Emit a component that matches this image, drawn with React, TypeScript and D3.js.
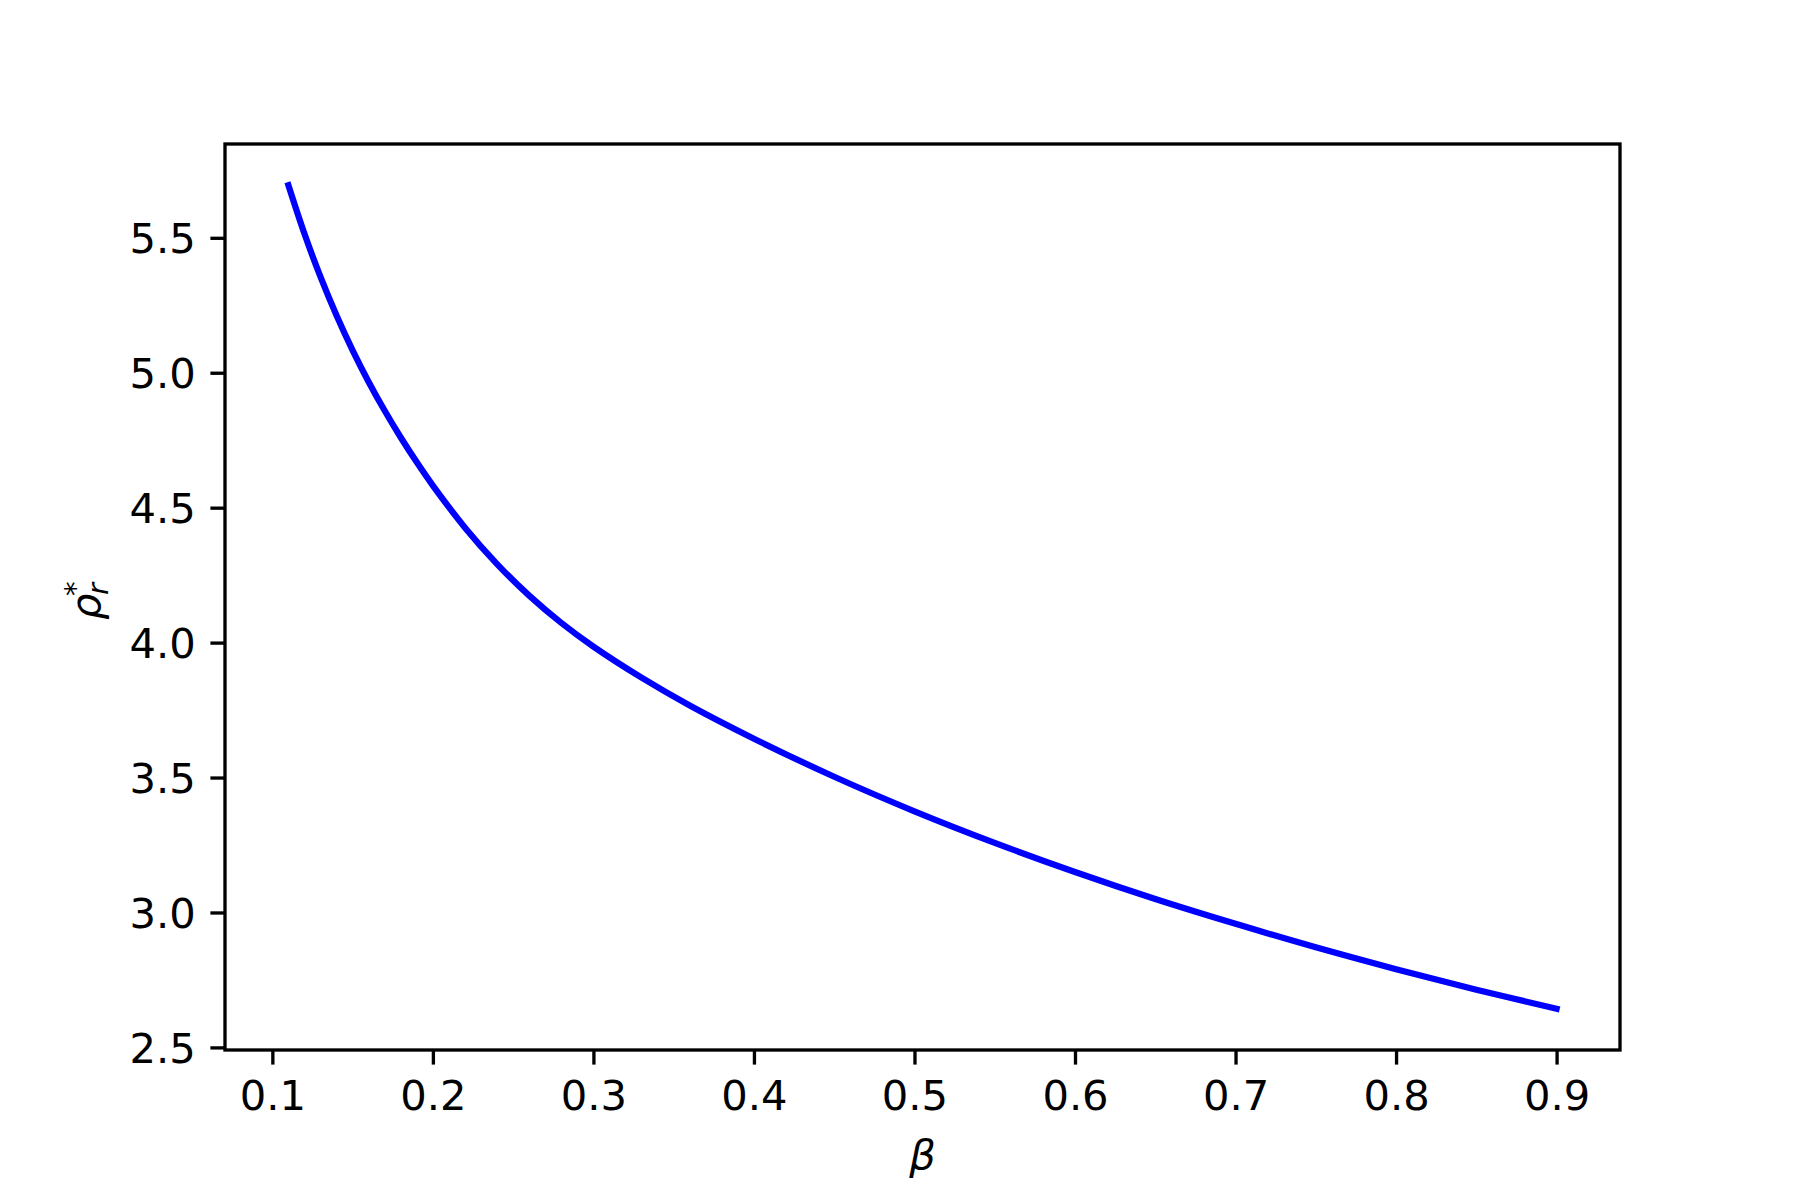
import { useRef, useEffect } from 'react';
import * as d3 from 'd3';

// values
const BETA = [0.11, 0.12, 0.13, 0.14, 0.15, 0.16, 0.17, 0.18, 0.19, 0.20, 0.22, 0.24, 0.26, 0.28, 0.30,
  0.33, 0.36, 0.40, 0.45, 0.50, 0.55, 0.60, 0.65, 0.70, 0.75, 0.80, 0.85, 0.90];
const RHO = [5.695, 5.515, 5.355, 5.212, 5.083, 4.966, 4.859, 4.76, 4.668, 4.582, 4.426, 4.291, 4.174, 4.073, 3.985,
  3.87, 3.767, 3.644, 3.503, 3.375, 3.258, 3.15, 3.05, 2.958, 2.871, 2.79, 2.714, 2.643];

const X_TICKS = [0.1, 0.2, 0.3, 0.4, 0.5, 0.6, 0.7, 0.8, 0.9];
const Y_TICKS = [2.5, 3.0, 3.5, 4.0, 4.5, 5.0, 5.5];

const FONT = '"DejaVu Sans", sans-serif';

export default function App() {
  const ref = useRef<SVGSVGElement>(null);

  useEffect(() => {
    const svg = d3.select(ref.current);
    svg.selectAll('*').remove();

    const W = 1800, H = 1200;
    const m = { top: 144, right: 180, bottom: 150, left: 225 };
    const iw = W - m.left - m.right;
    const ih = H - m.top - m.bottom;
    const fs = 41.67;
    const tick = 14.6;
    const lw = 3.33;

    // matplotlib-style 5% margins
    const pad = (lo: number, hi: number) => [lo - (hi - lo) * 0.05, hi + (hi - lo) * 0.05];
    const [x0, x1] = d3.extent(BETA) as [number, number];
    const [y0, y1] = d3.extent(RHO) as [number, number];

    const x = d3.scaleLinear().domain(pad(x0, x1)).range([0, iw]);
    const y = d3.scaleLinear().domain(pad(y0, y1)).range([ih, 0]);

    const g = svg.append('g').attr('transform', `translate(${m.left},${m.top})`);

    // curve
    const pts = BETA.map((b, i) => [b, RHO[i]] as [number, number]);
    g.append('path')
      .datum(pts)
      .attr('d', d3.line<[number, number]>().x(d => x(d[0])).y(d => y(d[1])).curve(d3.curveCatmullRom.alpha(0.5)))
      .attr('fill', 'none')
      .attr('stroke', '#0000ff')
      .attr('stroke-width', 6.25)
      .attr('stroke-linecap', 'square')
      .attr('stroke-linejoin', 'round');

    // X axis
    g.append('g').attr('transform', `translate(0,${ih})`)
      .call(d3.axisBottom(x).tickValues(X_TICKS).tickSize(tick).tickPadding(tick).tickFormat(d3.format('.1f')))
      .call(s => {
        s.select('.domain').remove();
        s.selectAll('line').attr('stroke', '#000').attr('stroke-width', lw);
        s.selectAll('text').attr('fill', '#000').style('font-family', FONT).style('font-size', `${fs}px`)
          .attr('dy', '0.75em');
      });

    // Y axis
    g.append('g')
      .call(d3.axisLeft(y).tickValues(Y_TICKS).tickSize(tick).tickPadding(tick).tickFormat(d3.format('.1f')))
      .call(s => {
        s.select('.domain').remove();
        s.selectAll('line').attr('stroke', '#000').attr('stroke-width', lw);
        s.selectAll('text').attr('fill', '#000').style('font-family', FONT).style('font-size', `${fs}px`)
          .attr('dy', '0.36em');
      });

    // frame
    g.append('rect')
      .attr('width', iw).attr('height', ih)
      .attr('fill', 'none').attr('stroke', '#000').attr('stroke-width', lw)
      .attr('stroke-linejoin', 'miter');

    // x label
    svg.append('text')
      .attr('x', m.left + iw / 2).attr('y', 1169)
      .attr('text-anchor', 'middle')
      .style('font-family', FONT).style('font-size', `${fs}px`).style('font-style', 'italic')
      .text('β');

    // y label: ρ_r^*
    const yl = svg.append('g').attr('transform', `translate(100,${m.top + ih / 2}) rotate(-90)`)
      .style('font-family', FONT).style('font-style', 'italic');
    yl.append('text').attr('x', -23).attr('y', 0).style('font-size', `${fs}px`).text('ρ');
    yl.append('text').attr('x', 2).attr('y', 8).style('font-size', `${fs * 0.7}px`).text('r');
    yl.append('text').attr('x', 1).attr('y', -15).style('font-size', `${fs * 0.7}px`).style('font-style', 'normal').text('*');
  }, []);

  return (
    <svg ref={ref} width={1800} height={1200}
      style={{ position: 'absolute', left: 0, top: 0, background: '#fff' }} />
  );
}
